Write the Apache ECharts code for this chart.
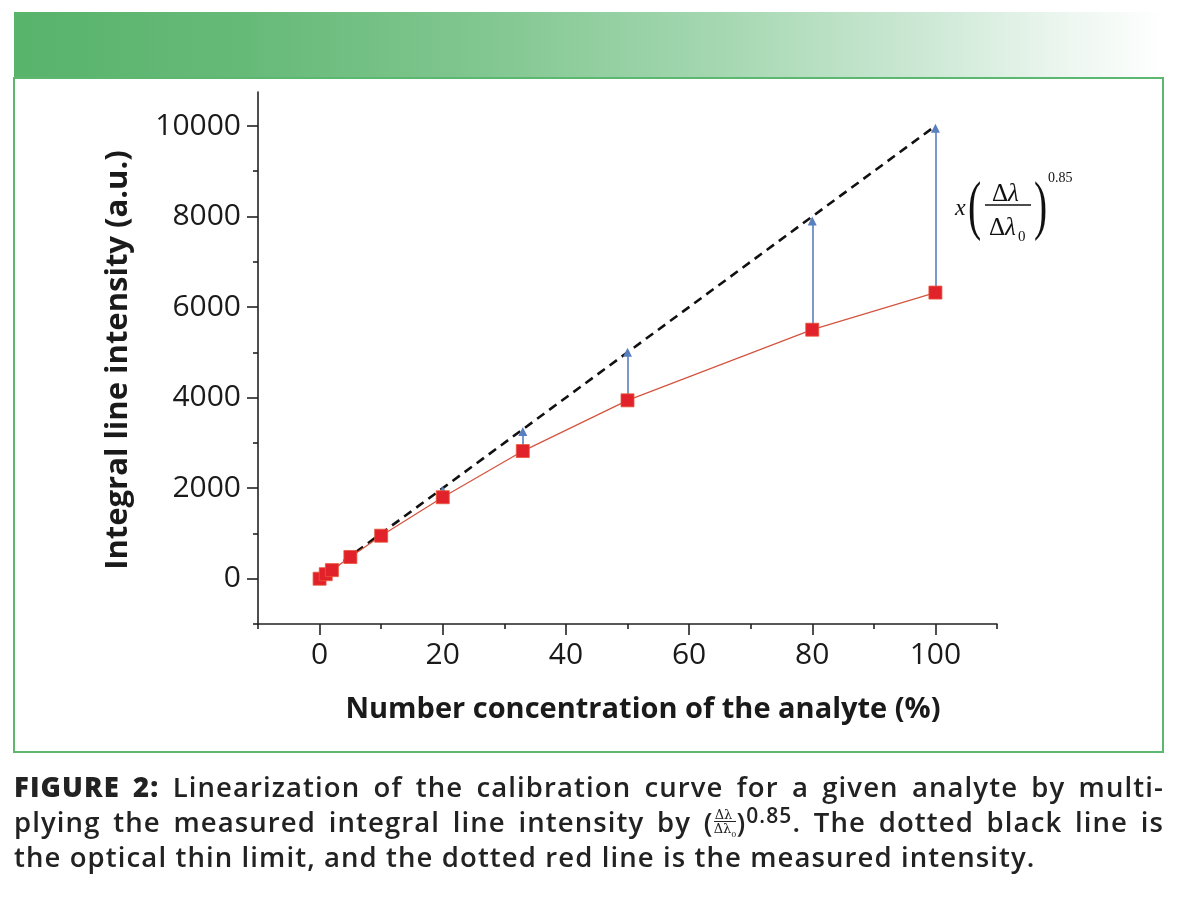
<!DOCTYPE html>
<html>
<head>
<meta charset="utf-8">
<script src="https://cdn.jsdelivr.net/npm/echarts@6/dist/echarts.min.js"></script>
<style>
  html, body { margin: 0; padding: 0; background: #ffffff; }
  body { width: 1178px; height: 900px; position: relative; overflow: hidden; }
  #banner { position: absolute; left: 14px; top: 12px; width: 1151px; height: 66px;
    background: linear-gradient(to right, #58b36b 0%, #66ba78 20%, #80c68f 40%, #a6d8b2 62%, #cfe9d7 80%, #eef7f1 92%, #ffffff 100%); }
  #frame { position: absolute; left: 13px; top: 77px; width: 1147px; height: 672px;
    border: 2px solid #5cb870; }
  #chart { position: absolute; left: 0; top: 0; width: 1178px; height: 900px; }
  .cap { position: absolute; left: 14px; width: 1150px; font-family: "Open Sans", "Noto Sans", sans-serif;
    font-size: 27.5px; font-weight: 600; color: #222; white-space: nowrap; line-height: 30px; letter-spacing: 1.1px; }
  .just { text-align: justify; text-align-last: justify; }
  .fig { font-weight: 800; }
  .frac { display: inline-block; vertical-align: middle; text-align: center; font-size: 13px; line-height: 13px; font-family: "DejaVu Serif", serif; font-weight: 400; letter-spacing: 0; }
  .frac span { display: block; }
  .frac .num { border-bottom: 1px solid #222; padding: 0 1px; }
  sup { font-size: 21px; line-height: 0; vertical-align: 9px; }
</style>
</head>
<body>
<div id="banner"></div>
<div id="frame"></div>
<div id="chart"></div>
<div class="cap just" style="top:772px;"><span class="fig">FIGURE 2:</span> Linearization of the calibration curve for a given analyte by multi-</div>
<div class="cap just" style="top:807px;">plying the measured integral line intensity by (<span class="frac"><span class="num">Δλ</span><span>Δλ<sub style="font-size:8px">0</sub></span></span>)<sup>0.85</sup>. The dotted black line is</div>
<div class="cap" style="top:842px;">the optical thin limit, and the dotted red line is the measured intensity.</div>
<script>
// ---- data ----
const concentration = [0, 1, 2, 5, 10, 20, 33, 50, 80, 100];
const measuredIntensity = [0, 100, 190, 480, 950, 1800, 2820, 3940, 5500, 6320];
const idealX = [0, 100];
const idealY = [0, 10000];
const arrowX = [20, 33, 50, 80, 100];
const arrowFrom = [1800, 2820, 3940, 5500, 6320];
const arrowTo = [1950, 3250, 5000, 7900, 9950];
const xMajorTicks = [0, 20, 40, 60, 80, 100];
const xMinorTicks = [-10, 10, 30, 50, 70, 90, 110];
const yMajorTicks = [0, 2000, 4000, 6000, 8000, 10000];
const yMinorTicks = [-1000, 1000, 3000, 5000, 7000, 9000];

const chart = echarts.init(document.getElementById('chart'), null, { renderer: 'canvas' });

const labelFont = { fontFamily: '"Open Sans", "Noto Sans", sans-serif', fontSize: 30, color: '#1a1a1a' };
const axisLineStyle = { color: '#222', width: 1.6 };
const plain = v => String(v);

function pair(a, b) { return a.map((v, i) => [v, b[i]]); }

const option = {
  animation: false,
  backgroundColor: 'transparent',
  grid: { left: 258, top: 92, width: 739, height: 532, containLabel: false },
  xAxis: [
    {
      type: 'value', min: -10, max: 110, position: 'bottom',
      axisLine: { show: true, onZero: false, lineStyle: axisLineStyle },
      axisTick: { show: true, length: 11, lineStyle: axisLineStyle, customValues: xMajorTicks },
      axisLabel: Object.assign({ margin: 16, customValues: xMajorTicks, formatter: plain }, labelFont),
      splitLine: { show: false }
    },
    {
      type: 'value', min: -10, max: 110, position: 'bottom',
      axisLine: { show: false, onZero: false },
      axisTick: { show: true, length: 5, lineStyle: axisLineStyle, customValues: xMinorTicks },
      axisLabel: { show: false },
      splitLine: { show: false }
    }
  ],
  yAxis: [
    {
      type: 'value', min: -1000, max: 10750, position: 'left',
      axisLine: { show: true, onZero: false, lineStyle: axisLineStyle },
      axisTick: { show: true, length: 11, lineStyle: axisLineStyle, customValues: yMajorTicks },
      axisLabel: Object.assign({ margin: 17, customValues: yMajorTicks, formatter: plain }, labelFont),
      splitLine: { show: false }
    },
    {
      type: 'value', min: -1000, max: 10750, position: 'left',
      axisLine: { show: false, onZero: false },
      axisTick: { show: true, length: 5, lineStyle: axisLineStyle, customValues: yMinorTicks },
      axisLabel: { show: false },
      splitLine: { show: false }
    }
  ],
  series: [
    {
      name: 'optical thin limit', type: 'line', xAxisIndex: 0, yAxisIndex: 0,
      data: pair(idealX, idealY), symbol: 'none', z: 3,
      lineStyle: { color: '#111', width: 2.6, type: [9, 6] }
    },
    {
      name: 'linearization', type: 'lines', coordinateSystem: 'cartesian2d', xAxisIndex: 0, yAxisIndex: 0,
      data: arrowX.map((x, i) => ({ coords: [[x, arrowFrom[i]], [x, arrowTo[i]]] })),
      symbol: ['none', 'triangle'], symbolSize: [0, 9], z: 4,
      lineStyle: { color: '#5a7fc0', width: 1.6, opacity: 1 }
    },
    {
      name: 'measured intensity', type: 'line', xAxisIndex: 0, yAxisIndex: 0,
      data: pair(concentration, measuredIntensity), z: 5,
      symbol: 'rect', symbolSize: 13,
      itemStyle: { color: '#e2222a', borderColor: '#e8553a', borderWidth: 0.8 },
      lineStyle: { color: '#d4553f', width: 1.3 }
    }
  ],
  graphic: [
    { type: 'text', x: 118, y: 360, rotation: Math.PI / 2,
      style: { text: 'Integral line intensity (a.u.)', fontFamily: '"Open Sans", "Noto Sans", sans-serif', fontWeight: 'bold', fontSize: 31, fill: '#1a1a1a', align: 'center', verticalAlign: 'middle' } },
    { type: 'text', x: 643, y: 710,
      style: { text: 'Number concentration of the analyte (%)', fontFamily: '"Open Sans", "Noto Sans", sans-serif', fontWeight: 'bold', fontSize: 29, fill: '#1a1a1a', align: 'center', verticalAlign: 'middle' } },
    // formula annotation
    { type: 'text', x: 955, y: 209,
      style: { text: 'x', fontFamily: '"Liberation Serif", "DejaVu Serif", serif', fontStyle: 'italic', fontSize: 24, fill: '#111', align: 'left', verticalAlign: 'middle' } },
    { type: 'text', x: 968, y: 210, scaleX: 0.6,
      style: { text: '(', fontFamily: '"Liberation Serif", "DejaVu Serif", serif', fontSize: 66, fill: '#111', align: 'left', verticalAlign: 'middle' } },
    { type: 'text', x: 1008, y: 194,
      style: { text: 'Δ', fontFamily: '"Liberation Serif", "DejaVu Serif", serif', fontSize: 25, fill: '#111', align: 'right', verticalAlign: 'middle' } },
    { type: 'text', x: 1008, y: 194,
      style: { text: 'λ', fontFamily: '"Liberation Serif", "DejaVu Serif", serif', fontStyle: 'italic', fontSize: 25, fill: '#111', align: 'left', verticalAlign: 'middle' } },
    { type: 'line', shape: { x1: 985, y1: 205, x2: 1031, y2: 205 }, style: { stroke: '#111', lineWidth: 1.4 } },
    { type: 'text', x: 1005, y: 228,
      style: { text: 'Δ', fontFamily: '"Liberation Serif", "DejaVu Serif", serif', fontSize: 25, fill: '#111', align: 'right', verticalAlign: 'middle' } },
    { type: 'text', x: 1005, y: 228,
      style: { text: 'λ', fontFamily: '"Liberation Serif", "DejaVu Serif", serif', fontStyle: 'italic', fontSize: 25, fill: '#111', align: 'left', verticalAlign: 'middle' } },
    { type: 'text', x: 1018, y: 237,
      style: { text: '0', fontFamily: '"Liberation Serif", "DejaVu Serif", serif', fontSize: 15, fill: '#111', align: 'left', verticalAlign: 'middle' } },
    { type: 'text', x: 1034, y: 210, scaleX: 0.6,
      style: { text: ')', fontFamily: '"Liberation Serif", "DejaVu Serif", serif', fontSize: 66, fill: '#111', align: 'left', verticalAlign: 'middle' } },
    { type: 'text', x: 1048, y: 178,
      style: { text: '0.85', fontFamily: '"Liberation Serif", "DejaVu Serif", serif', fontSize: 14, fill: '#111', align: 'left', verticalAlign: 'middle' } }
  ]
};

chart.setOption(option);
</script>
</body>
</html>
